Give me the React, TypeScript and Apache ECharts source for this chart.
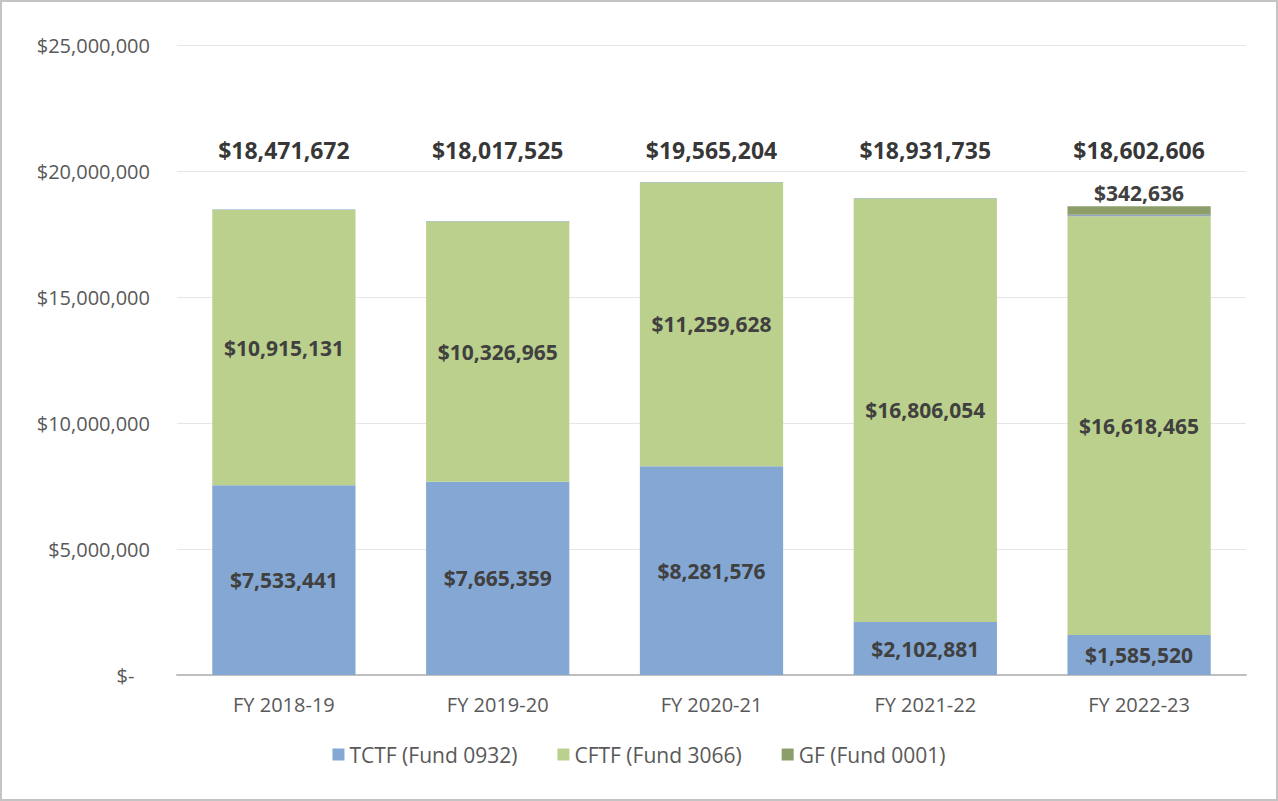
import React, { useEffect, useRef } from "react";
import * as echarts from "echarts";

const categories = ["FY 2018-19", "FY 2019-20", "FY 2020-21", "FY 2021-22", "FY 2022-23"];
const tctf = [7533441, 7665359, 8281576, 2102881, 1585520];
const cftf = [10915131, 10326965, 11259628, 16806054, 16618465];
const other = [23100, 25201, 24000, 22800, 55985];
const gf = [0, 0, 0, 0, 342636];
const totals = [18471672, 18017525, 19565204, 18931735, 18602606];
const totalLabelLevel = 20850000;

const money = (v: number) => "$" + Math.round(v).toLocaleString("en-US");

export default function App() {
  const ref = useRef<HTMLDivElement>(null);
  useEffect(() => {
    if (!ref.current) return;
    const chart = echarts.init(ref.current, null, { renderer: "svg" });
    const font = "'Open Sans', sans-serif";
    const inner = {
      show: true,
      position: "inside",
      fontFamily: font,
      fontWeight: "bold",
      fontSize: 21,
      color: "#404040",
      formatter: (p: any) => money(p.value),
    };
    chart.setOption({
      animation: false,
      textStyle: { fontFamily: font },
      grid: { left: 175, right: 30, top: 43, bottom: 124 },
      legend: {
        bottom: 29,
        left: "center",
        itemWidth: 12,
        itemHeight: 12,
        itemGap: 40,
        icon: "rect",
        data: ["TCTF (Fund 0932)", "CFTF (Fund 3066)", "GF (Fund 0001)"],
        textStyle: { color: "#595959", fontSize: 21, fontFamily: font },
      },
      xAxis: {
        type: "category",
        data: categories,
        axisTick: { show: false },
        axisLine: { lineStyle: { color: "#bfbfbf", width: 2 } },
        axisLabel: { color: "#595959", fontSize: 20, margin: 19, fontFamily: font },
      },
      yAxis: {
        type: "value",
        min: 0,
        max: 25000000,
        interval: 5000000,
        axisLabel: {
          color: "#595959",
          fontSize: 20,
          margin: 27,
          fontFamily: font,
          formatter: (v: number) => (v === 0 ? "$-   " : money(v)),
        },
        splitLine: { lineStyle: { color: "#e6e6e6", width: 1 } },
      },
      series: [
        {
          name: "TCTF (Fund 0932)",
          type: "bar",
          stack: "a",
          data: tctf,
          barCategoryGap: "33%",
          itemStyle: { color: "#84a7d3" },
          label: inner,
        },
        {
          name: "CFTF (Fund 3066)",
          type: "bar",
          stack: "a",
          data: cftf,
          itemStyle: { color: "#bbd08c" },
          label: inner,
        },
        {
          name: "Other",
          type: "bar",
          stack: "a",
          data: other,
          itemStyle: { color: "#8ea5c4" },
        },
        {
          name: "GF (Fund 0001)",
          type: "bar",
          stack: "a",
          data: gf,
          itemStyle: { color: "#8e9e6b" },
          label: {
            ...inner,
            position: "top",
            distance: 3,
            formatter: (p: any) => (p.value ? money(p.value) : ""),
          },
        },
        {
          name: "Totals",
          type: "scatter",
          symbolSize: 0,
          data: totals.map((t, i) => [i, totalLabelLevel, t]),
          label: {
            show: true,
            position: "inside",
            fontFamily: font,
            fontWeight: "bold",
            fontSize: 23,
            color: "#000000",
            formatter: (p: any) => money(p.value[2]),
          },
          silent: true,
        },
      ],
    });
    return () => chart.dispose();
  }, []);
  return (
    <div
      style={{
        position: "absolute",
        left: 0,
        top: 0,
        width: 1278,
        height: 801,
        boxSizing: "border-box",
        border: "2px solid #c4c4c4",
        background: "#fff",
      }}
    >
      <div ref={ref} style={{ width: 1274, height: 797 }} />
    </div>
  );
}
